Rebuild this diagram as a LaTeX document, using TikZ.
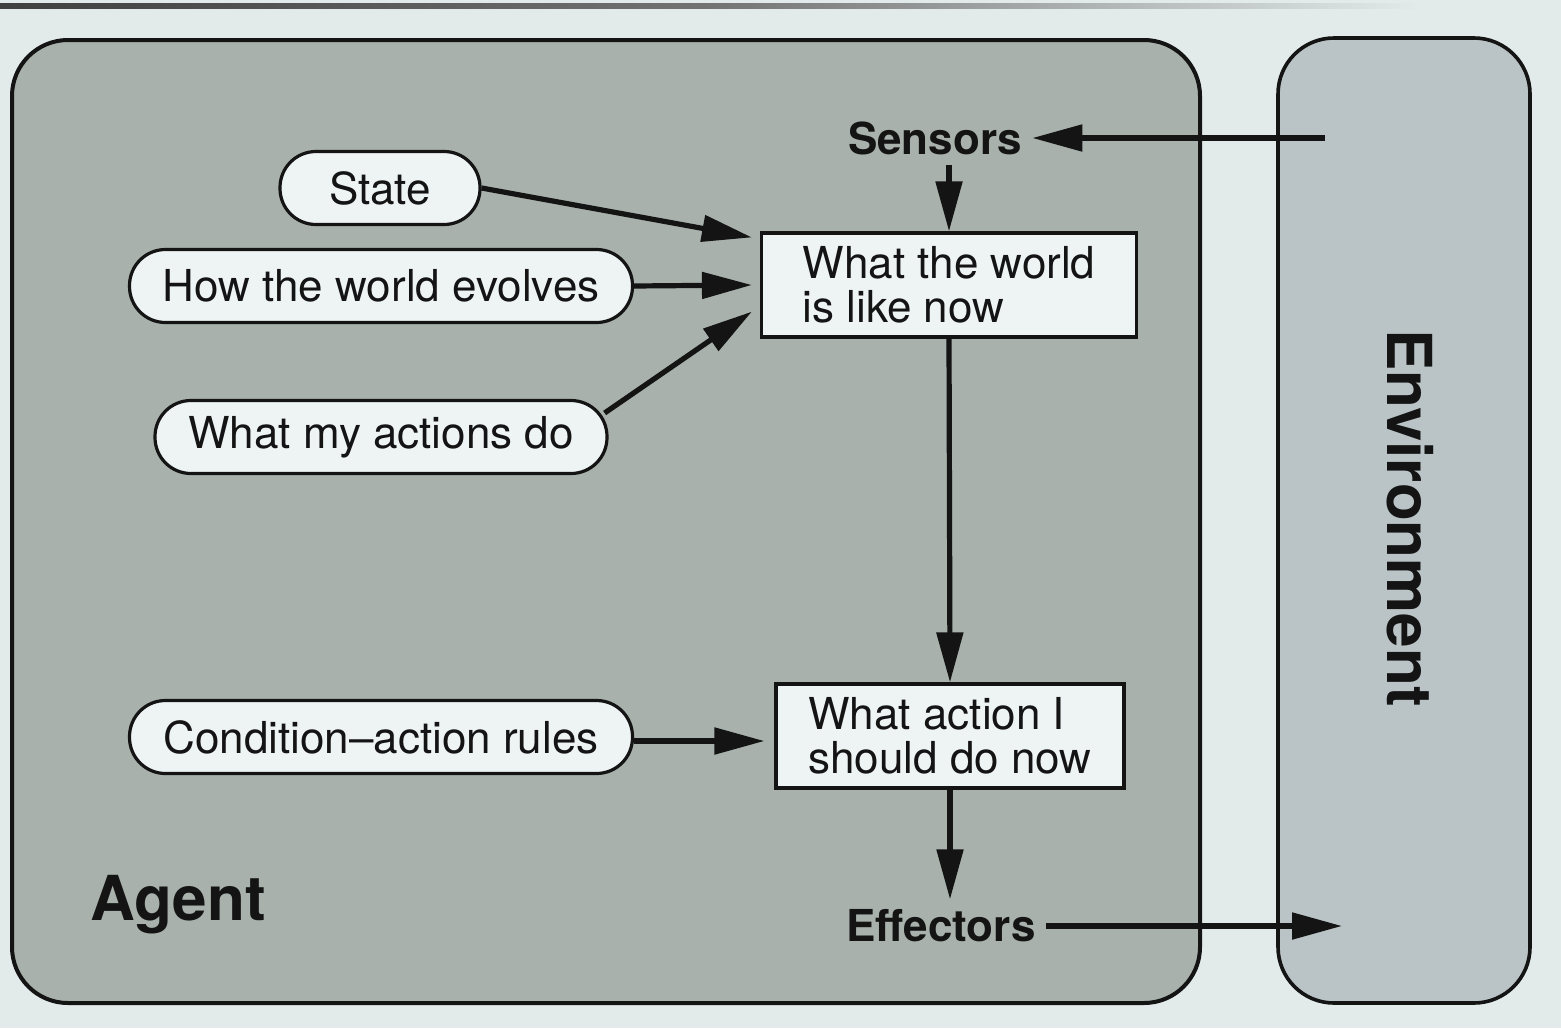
\documentclass[tikz,border=0pt]{standalone}
\usepackage{fontspec}
\setmainfont{TeX Gyre Heros}
\usetikzlibrary{arrows.meta,calc}
\definecolor{bgc}{RGB}{226,234,234}
\definecolor{agentc}{RGB}{168,177,172}
\definecolor{envc}{RGB}{186,195,197}
\definecolor{boxc}{RGB}{238,243,243}
\definecolor{inkc}{RGB}{20,20,20}
\begin{document}
\begin{tikzpicture}[x=0.5pt,y=-0.5pt,
  txt/.style={font=\fontsize{22}{22}\selectfont, text=inkc},
  pill/.style={txt, draw=inkc, line width=1.6pt, fill=boxc, rounded corners=18pt, minimum height=36.5pt, inner sep=0pt},
  rbox/.style={txt, draw=inkc, line width=1.6pt, fill=boxc, align=left, minimum height=52pt, inner sep=0pt},
  lbl/.style={font=\fontsize{22}{22}\bfseries\selectfont, text=inkc},
  big/.style={font=\fontsize{31}{31}\bfseries\selectfont, text=inkc},
  arr/.style={draw=inkc, line width=2.6pt, -{Triangle[length=25pt,width=13pt]}}]
\useasboundingbox (0,0) rectangle (1561,1028);
\fill[bgc] (0,0) rectangle (1561,1028);
\shade[left color=black!75, right color=bgc, middle color=black!55] (0,3) rectangle (1420,8);
% frames
\draw[draw=inkc, line width=2pt, fill=agentc, rounded corners=28pt] (12,40) rectangle (1200,1003);
\draw[draw=inkc, line width=1.8pt, fill=envc, rounded corners=28pt] (1278,38) rectangle (1530,1003);
% nodes
\node[pill, minimum width=100pt] (state) at (380,188) {State};
\node[pill, minimum width=251.5pt] (evolves) at (381,286) {How the world evolves};
\node[pill, minimum width=226pt] (acts) at (381,437) {What my actions do};
\node[pill, minimum width=251.5pt] (rules) at (381,737) {Condition--action rules};
\node[rbox, minimum width=187.5pt] (world) at (949,285) {What the world\\is like now};
\node[rbox, minimum width=174pt] (action) at (950,736) {What action I\\should do now};
\node[lbl, inner sep=5pt] (sensors) at (935,138) {Sensors};
\node[lbl, inner sep=5pt] (effectors) at (941,926) {Effectors};
\node[big] (agent) at (178,905) {Agent};
\node[big, rotate=-90] (env) at (1410,518) {Environment};
\coordinate (envin) at (1325,138);
\coordinate (effout) at (1342,926);
% connectors
\draw[arr] (envin) -- (envin -| sensors.east);
\draw[arr] (world.north |- sensors.south) -- (world.north);
\draw[arr] (state.east) -- ([shift={(-4pt,-3pt)}]world.north west);
\draw[arr] (evolves.east) -- ([xshift=-4pt]world.west);
\draw[arr] ([shift={(-2pt,12pt)}]acts.east) -- ([shift={(-4pt,13.5pt)}]world.south west);
\draw[arr] (world.south) -- (action.north);
\draw[arr] (rules.east |- 0,741) -- ([xshift=-5pt]action.west |- 0,741);
\draw[arr] (action.south) -- (action.south |- effectors.north);
\draw[arr] (effectors.east |- effout) -- (effout);
\end{tikzpicture}
\end{document}
